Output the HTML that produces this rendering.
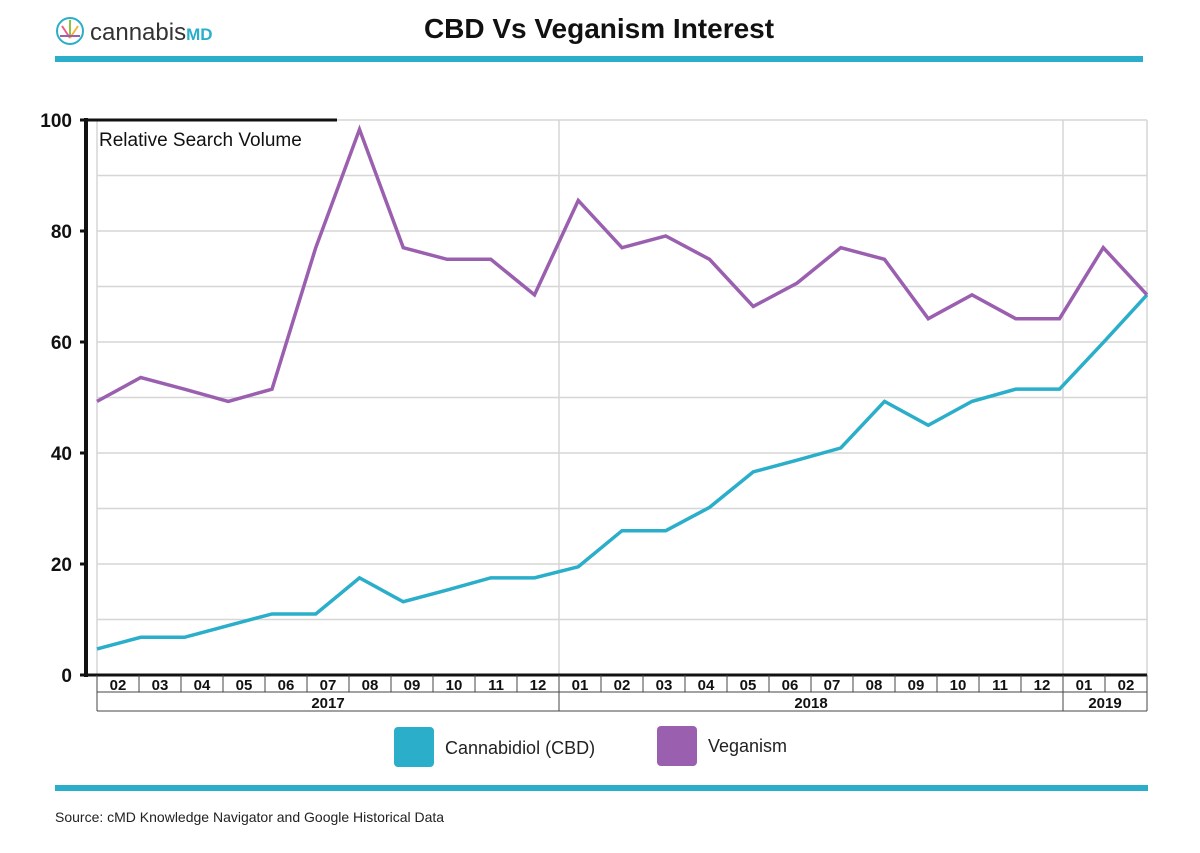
<!DOCTYPE html>
<html><head><meta charset="utf-8"><style>
body{margin:0;background:#fff;width:1200px;height:848px;overflow:hidden;font-family:"Liberation Sans",sans-serif}
</style></head><body>
<svg width="1200" height="848" viewBox="0 0 1200 848" xmlns="http://www.w3.org/2000/svg">
<g>
<circle cx="70" cy="31" r="13" fill="none" stroke="#2aaec9" stroke-width="2"/>
<line x1="70" y1="20" x2="70" y2="38" stroke="#8fc43d" stroke-width="2"/>
<line x1="62" y1="26" x2="70" y2="38" stroke="#e85d8a" stroke-width="2"/>
<line x1="78" y1="26" x2="70" y2="38" stroke="#f4b63f" stroke-width="2"/>
<line x1="60" y1="36" x2="80" y2="36" stroke="#9c5fb0" stroke-width="2"/>
<text x="90" y="40" font-size="24" fill="#333">cannabis<tspan font-size="17" fill="#2aaec9" font-weight="bold">MD</tspan></text>
</g>
<text x="599" y="38" font-size="28" font-weight="bold" text-anchor="middle" fill="#111">CBD Vs Veganism Interest</text>
<rect x="55" y="56" width="1088" height="6" fill="#2aaec9"/>
<g id="grid"></g>
<g id="axes"></g>
<text x="99" y="146" font-size="19" fill="#111">Relative Search Volume</text>
<g id="series"></g>
<g>
<rect x="394" y="727" width="40" height="40" rx="4" fill="#2aaec9"/>
<text x="445" y="754" font-size="18" fill="#222">Cannabidiol (CBD)</text>
<rect x="657" y="726" width="40" height="40" rx="4" fill="#9b5fb0"/>
<text x="708" y="752" font-size="18" fill="#222">Veganism</text>
</g>
<rect x="55" y="785" width="1093" height="6" fill="#2aaec9"/>
<text x="55" y="822" font-size="14" fill="#222">Source: cMD Knowledge Navigator and Google Historical Data</text>
</svg>
<script>
const months=["02","03","04","05","06","07","08","09","10","11","12","01","02","03","04","05","06","07","08","09","10","11","12","01","02"];
const years=[["2017",0,11],["2018",11,23],["2019",23,25]];
const yTicks=[0,20,40,60,80,100];
const veganism=[49.3,53.6,51.5,49.3,51.5,77,98.3,77,74.9,74.9,68.5,85.5,77,79.1,74.9,66.4,70.6,77,74.9,64.2,68.5,64.2,64.2,77,68.5];
const cbd=[4.7,6.8,6.8,8.9,11,11,17.5,13.2,15.3,17.5,17.5,19.5,26,26,30.2,36.6,38.7,40.9,49.3,45,49.3,51.5,51.5,59.9,68.5];
const NS="http://www.w3.org/2000/svg";
const X0=97,X1=1147,Y0=675,Y1=120;
const y=v=>Y0-(v/100)*(Y0-Y1);
const xp=i=>X0+i*(X1-X0)/(cbd.length-1);
const cw=(X1-X0)/months.length;
const xc=i=>X0+i*cw;
function mk(tag,attrs,parent){const e=document.createElementNS(NS,tag);for(const k in attrs)e.setAttribute(k,attrs[k]);parent.appendChild(e);return e;}
const grid=document.getElementById('grid'),axes=document.getElementById('axes'),series=document.getElementById('series');
for(let v=10;v<=100;v+=10){
 const l=mk('line',{x1:X0,x2:X1,y1:y(v),y2:y(v),stroke:'#d6d6d6','stroke-width':1.5},grid);
 
 
}
[0,11,23,25].forEach(i=>{
 const l=mk('line',{x1:xc(i),x2:xc(i),y1:Y1,y2:Y0,stroke:'#d6d6d6','stroke-width':1.5},grid);
 
 
});
mk('line',{x1:86,x2:86,y1:Y1-2,y2:Y0+2,stroke:'#111','stroke-width':4},axes);
mk('line',{x1:84,x2:337,y1:Y1,y2:Y1,stroke:'#111','stroke-width':3},axes);
mk('line',{x1:84,x2:X1,y1:Y0,y2:Y0,stroke:'#111','stroke-width':3},axes);
yTicks.forEach(v=>{
 mk('line',{x1:80,x2:88,y1:y(v),y2:y(v),stroke:'#111','stroke-width':3},axes);
 const t=mk('text',{x:72,y:y(v)+7,'font-size':19,'font-weight':'bold','text-anchor':'end',fill:'#111'},axes);
 t.textContent=v;
 
 
});
mk('line',{x1:X0,x2:X1,y1:692,y2:692,stroke:'#444','stroke-width':1},axes);
mk('line',{x1:X0,x2:X1,y1:711,y2:711,stroke:'#444','stroke-width':1},axes);
for(let i=0;i<=months.length;i++){
 mk('line',{x1:xc(i),x2:xc(i),y1:Y0,y2:692,stroke:'#444','stroke-width':1},axes);
}
months.forEach((m,i)=>{
 const t=mk('text',{x:xc(i)+cw/2,y:690,'font-size':15,'font-weight':'bold','text-anchor':'middle',fill:'#111'},axes);
 t.textContent=m;
 
 
});
years.forEach(([yr,a,b])=>{
 mk('line',{x1:xc(a),x2:xc(a),y1:692,y2:711,stroke:'#444','stroke-width':1},axes);
 mk('line',{x1:xc(b),x2:xc(b),y1:692,y2:711,stroke:'#444','stroke-width':1},axes);
 const t=mk('text',{x:(xc(a)+xc(b))/2,y:708,'font-size':15,'font-weight':'bold','text-anchor':'middle',fill:'#111'},axes);
 t.textContent=yr;
 
 
});
function line(data,color,name){
 const p=mk('polyline',{points:data.map((v,i)=>xp(i)+','+y(v)).join(' '),fill:'none',stroke:color,'stroke-width':3.5,'stroke-linejoin':'miter'},series);
 
 
}
line(cbd,'#2aaec9','cbd-line');
line(veganism,'#9b5fb0','veganism-line');
</script>
</body></html>
